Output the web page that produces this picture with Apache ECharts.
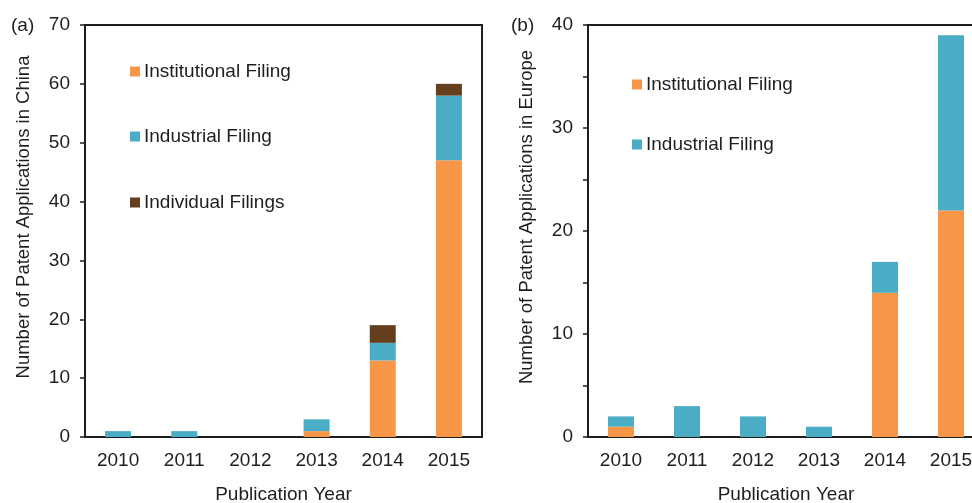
<!DOCTYPE html>
<html>
<head>
<meta charset="utf-8">
<script src="https://cdn.jsdelivr.net/npm/echarts@6/dist/echarts.min.js"></script>
<style>
  html, body { margin: 0; padding: 0; background: #fff; }
  #chart { width: 972px; height: 503px; }
</style>
</head>
<body>
<div id="chart"></div>
<script>
// Publication years shared by both panels
const years = ['2010', '2011', '2012', '2013', '2014', '2015'];

// (a) patent applications filed in China
const chinaInstitutional = [0, 0, 0, 1, 13, 47];
const chinaIndustrial = [1, 1, 0, 2, 3, 11];
const chinaIndividual = [0, 0, 0, 0, 3, 2];

// (b) patent applications filed in Europe
const europeInstitutional = [1, 0, 0, 0, 14, 22];
const europeIndustrial = [1, 3, 2, 1, 3, 17];

const ORANGE = '#F79646';
const BLUE = '#4BACC6';
const BROWN = '#653E1E';
const INK = '#1e1e1e';
const FONT = 'Liberation Sans, Arial, sans-serif';
const LABEL_SIZE = 19;

const chart = echarts.init(document.getElementById('chart'), null, { renderer: 'canvas' });

function xAxisFor(gridIndex) {
  return {
    type: 'category',
    gridIndex,
    data: years,
    name: 'Publication Year',
    nameLocation: 'middle',
    nameGap: 48,
    nameTextStyle: { color: INK, fontSize: LABEL_SIZE, fontFamily: FONT },
    axisLine: { lineStyle: { color: INK, width: 2 } },
    axisTick: { alignWithLabel: true, length: 5, lineStyle: { color: INK, width: 1.5 } },
    axisLabel: { color: INK, fontSize: LABEL_SIZE, fontFamily: FONT, margin: 14 },
    splitLine: { show: false }
  };
}

function yAxisFor(gridIndex, max, title, minor) {
  return {
    type: 'value',
    gridIndex,
    min: 0,
    max,
    interval: 10,
    name: title,
    nameLocation: 'middle',
    nameGap: 52,
    nameTextStyle: { color: INK, fontSize: 18.5, fontFamily: FONT, padding: [0, 0, 0, 28] },
    axisLine: { show: true, lineStyle: { color: INK, width: 2 } },
    axisTick: { show: true, length: 5, lineStyle: { color: INK, width: 1.5 } },
    minorTick: { show: minor, splitNumber: 2, length: 5, lineStyle: { color: INK, width: 1.5 } },
    axisLabel: { color: INK, fontSize: LABEL_SIZE, fontFamily: FONT, margin: 15 },
    splitLine: { show: false }
  };
}

function barSeries(name, data, color, axisIndex, stack) {
  return {
    name,
    type: 'bar',
    stack,
    xAxisIndex: axisIndex,
    yAxisIndex: axisIndex,
    data,
    barWidth: 26,
    itemStyle: { color },
    emphasis: { disabled: true }
  };
}

function legendItem(name, color, left, top) {
  return {
    data: [{ name, itemStyle: { color } }],
    left,
    top,
    padding: 0,
    itemWidth: 10,
    itemHeight: 10,
    icon: 'rect',
    itemGap: 4,
    textStyle: { color: INK, fontSize: LABEL_SIZE, fontFamily: FONT, padding: [0, 0, 0, -1] },
    selectedMode: false
  };
}

chart.setOption({
  animation: false,
  textStyle: { fontFamily: FONT },
  title: [
    { text: '(a)', left: 11, top: 16, padding: 0, textStyle: { color: INK, fontSize: LABEL_SIZE, fontWeight: 'normal', fontFamily: FONT } },
    { text: '(b)', left: 511, top: 16, padding: 0, textStyle: { color: INK, fontSize: LABEL_SIZE, fontWeight: 'normal', fontFamily: FONT } }
  ],
  grid: [
    { left: 85, top: 25, width: 397, bottom: 66, outerBoundsMode: 'none', show: true, borderColor: INK, borderWidth: 2, backgroundColor: 'transparent' },
    { left: 588, top: 25, width: 396, bottom: 66, outerBoundsMode: 'none', show: true, borderColor: INK, borderWidth: 2, backgroundColor: 'transparent' }
  ],
  legend: [
    legendItem('Institutional Filing', ORANGE, 130, 62),
    legendItem('Industrial Filing', BLUE, 130, 127),
    legendItem('Individual Filings', BROWN, 130, 193),
    legendItem('Institutional Filing ', ORANGE, 632, 75),
    legendItem('Industrial Filing ', BLUE, 632, 135)
  ],
  xAxis: [xAxisFor(0), xAxisFor(1)],
  yAxis: [
    yAxisFor(0, 70, 'Number of Patent Applications in China', false),
    yAxisFor(1, 40, 'Number of Patent Applications in Europe', true)
  ],
  series: [
    barSeries('Institutional Filing', chinaInstitutional, ORANGE, 0, 'china'),
    barSeries('Industrial Filing', chinaIndustrial, BLUE, 0, 'china'),
    barSeries('Individual Filings', chinaIndividual, BROWN, 0, 'china'),
    barSeries('Institutional Filing ', europeInstitutional, ORANGE, 1, 'europe'),
    barSeries('Industrial Filing ', europeIndustrial, BLUE, 1, 'europe')
  ]
});
</script>
</body>
</html>
